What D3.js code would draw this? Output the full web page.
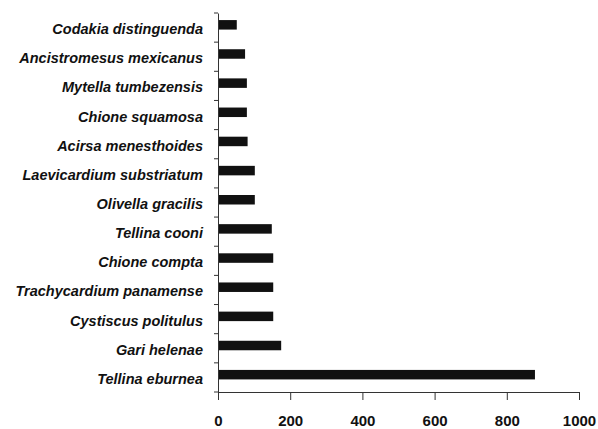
<!DOCTYPE html>
<html><head><meta charset="utf-8">
<script src="https://cdn.jsdelivr.net/npm/d3@7/dist/d3.min.js"></script>
<style>body{margin:0;background:#fff}</style>
</head><body>
<svg id="c" width="598" height="429"></svg>
<script>
const categories = ["Codakia distinguenda","Ancistromesus mexicanus","Mytella tumbezensis","Chione squamosa","Acirsa menesthoides","Laevicardium substriatum","Olivella gracilis","Tellina cooni","Chione compta","Trachycardium panamense","Cystiscus politulus","Gari helenae","Tellina eburnea"];
const values = [52,75,80,80,82,102,102,149,153,153,153,175,878];
const xTicks = [0,200,400,600,800,1000];

(function(){
const svg = d3.select("#c");
const mL = 218, mR = 579, mT = 13, mB = 392;
const x = d3.scaleLinear().domain([0,1000]).range([mL,mR]);
const y = d3.scaleBand().domain(categories).range([mT,mB]);
const font = "'Liberation Sans Narrow','Liberation Sans',sans-serif";

svg.selectAll("rect.bar").data(values).join("rect")
  .attr("class","bar")
  .attr("x", x(0))
  .attr("y",(d,i)=>y(categories[i]) + y.bandwidth()/2 - 7.5)
  .attr("width", d=>x(d)-x(0))
  .attr("height", 9.5)
  .attr("fill","#111");

const yAxis = svg.append("g").attr("transform",`translate(${mL},0)`)
  .call(d3.axisLeft(y).tickSize(0).tickPadding(15));
yAxis.select(".domain").attr("stroke","#333");
yAxis.selectAll("text").attr("font-family",font).attr("font-style","italic")
  .attr("font-weight","bold").attr("font-size","14.5px").attr("fill","#111")
  .attr("dy","0.45em");
const bounds = categories.map(c=>y(c)).concat([mB]);
svg.selectAll("line.yt").data(bounds).join("line")
  .attr("class","yt").attr("x1",mL-4).attr("x2",mL)
  .attr("y1",d=>d).attr("y2",d=>d).attr("stroke","#333");

const xAxis = svg.append("g").attr("transform",`translate(0,${mB})`)
  .call(d3.axisBottom(x).tickValues(xTicks).tickFormat(d3.format("d")).tickSize(8).tickPadding(15).tickSizeOuter(0));
xAxis.select(".domain").attr("stroke","#333");
xAxis.selectAll("line").attr("stroke","#333");
xAxis.selectAll("text").attr("font-family",font).attr("font-weight","bold")
  .attr("font-size","15px").attr("fill","#111");
})();
</script>
</body></html>
